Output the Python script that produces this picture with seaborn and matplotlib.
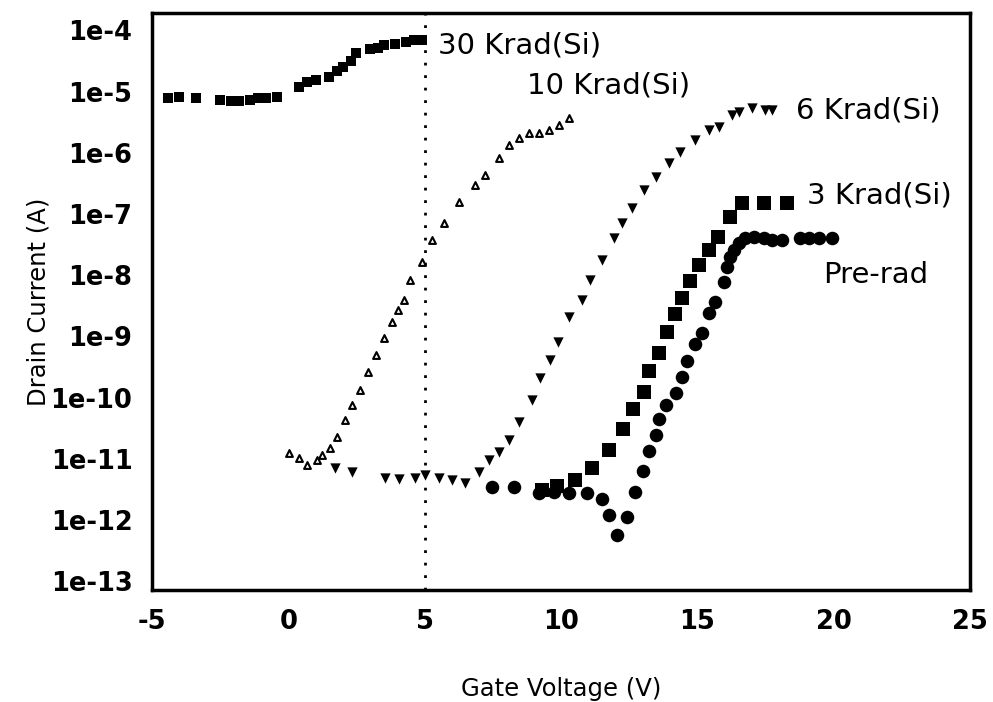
import matplotlib
matplotlib.use('Agg')
import matplotlib.pyplot as plt
import seaborn as sns
import pandas as pd

# gate voltage (V) and drain current (A) for each dose
v_30k = [-4.4, -4.0, -3.4, -2.5, -2.1, -1.8, -1.4, -1.1, -0.8, -0.4, 0.4, 0.7, 1.0, 1.5, 1.8,
         2.0, 2.3, 2.5, 3.0, 3.3, 3.5, 3.9, 4.3, 4.6, 4.9]
i_30k = [7.8e-6, 8.1e-6, 7.8e-6, 7.2e-6, 7.0e-6, 7.0e-6, 7.2e-6, 7.8e-6, 7.8e-6, 8.1e-6, 1.17e-5,
         1.42e-5, 1.53e-5, 1.71e-5, 2.2e-5, 2.5e-5, 3.2e-5, 4.2e-5, 4.9e-5, 5.1e-5, 5.7e-5, 6.1e-5,
         6.4e-5, 6.9e-5, 6.9e-5]

v_10k = [0.03, 0.39, 0.69, 1.05, 1.24, 1.53, 1.79, 2.08, 2.34, 2.63, 2.92, 3.22, 3.51, 3.80, 4.02,
         4.24, 4.46, 4.90, 5.27, 5.71, 6.26, 6.85, 7.21, 7.73, 8.09, 8.46, 8.83, 9.19, 9.56, 9.93, 10.29]
i_10k = [1.26e-11, 1.04e-11, 8.0e-12, 9.7e-12, 1.17e-11, 1.52e-11, 2.3e-11, 4.35e-11, 7.6e-11,
         1.34e-10, 2.64e-10, 5.0e-10, 9.5e-10, 1.73e-9, 2.7e-9, 3.9e-9, 8.4e-9, 1.64e-8, 3.75e-8,
         7.1e-8, 1.56e-7, 2.96e-7, 4.3e-7, 8.2e-7, 1.33e-6, 1.73e-6, 2.09e-6, 2.09e-6, 2.34e-6,
         2.82e-6, 3.66e-6]

v_6k = [1.71, 2.34, 3.55, 4.06, 4.65, 5.01, 5.53, 6.00, 6.48, 6.99, 7.36, 7.73, 8.09, 8.46, 8.94,
        9.23, 9.60, 9.89, 10.29, 10.77, 11.06, 11.50, 11.94, 12.23, 12.60, 13.04, 13.48, 13.96,
        14.36, 14.91, 15.43, 15.79, 16.27, 16.53, 17.00, 17.48, 17.73]
i_6k = [7.2e-12, 6.2e-12, 4.9e-12, 4.7e-12, 4.9e-12, 5.5e-12, 4.9e-12, 4.6e-12, 4.1e-12, 6.2e-12,
        9.7e-12, 1.31e-11, 2.05e-11, 4.0e-11, 9.2e-11, 2.1e-10, 4.1e-10, 8.1e-10, 2.08e-9, 3.9e-9,
        8.4e-9, 1.77e-8, 4.05e-8, 7.1e-8, 1.25e-7, 2.45e-7, 4.0e-7, 6.8e-7, 1.02e-6, 1.61e-6,
        2.34e-6, 2.62e-6, 4.1e-6, 4.6e-6, 5.3e-6, 5.1e-6, 5.1e-6]

v_3k = [9.30, 9.85, 10.51, 11.14, 11.76, 12.27, 12.64, 13.04, 13.22, 13.59, 13.88, 14.18, 14.44,
        14.73, 15.06, 15.43, 15.76, 16.20, 16.64, 17.45, 18.29]
i_3k = [3.1e-12, 3.6e-12, 4.6e-12, 7.2e-12, 1.41e-11, 3.1e-11, 6.6e-11, 1.24e-10, 2.74e-10,
        5.4e-10, 1.18e-9, 2.33e-9, 4.2e-9, 8.0e-9, 1.47e-8, 2.58e-8, 4.2e-8, 8.9e-8, 1.51e-7,
        1.51e-7, 1.51e-7]

v_pre = [7.47, 8.28, 9.19, 9.74, 10.29, 10.95, 11.50, 11.76, 12.05, 12.42, 12.71, 13.01, 13.22,
         13.48, 13.59, 13.85, 14.22, 14.44, 14.62, 14.91, 15.17, 15.43, 15.65, 15.98, 16.09, 16.20,
         16.34, 16.53, 16.75, 17.08, 17.44, 17.74, 18.10, 18.76, 19.09, 19.46, 19.94]
i_pre = [3.5e-12, 3.5e-12, 2.8e-12, 2.9e-12, 2.8e-12, 2.8e-12, 2.23e-12, 1.23e-12, 5.8e-13,
         1.14e-12, 2.9e-12, 6.4e-12, 1.36e-11, 2.47e-11, 4.5e-11, 7.6e-11, 1.2e-10, 2.18e-10,
         4.0e-10, 7.5e-10, 1.14e-9, 2.42e-9, 3.66e-9, 7.7e-9, 1.36e-8, 1.98e-8, 2.58e-8, 3.35e-8,
         4.05e-8, 4.2e-8, 4.05e-8, 3.75e-8, 3.75e-8, 4.05e-8, 4.05e-8, 4.05e-8, 4.05e-8]

y_ticks = [1e-4, 1e-5, 1e-6, 1e-7, 1e-8, 1e-9, 1e-10, 1e-11, 1e-12, 1e-13]
y_tick_labels = ['1e-4', '1e-5', '1e-6', '1e-7', '1e-8', '1e-9', '1e-10', '1e-11', '1e-12', '1e-13']
x_ticks = [-5, 0, 5, 10, 15, 20, 25]

sns.set_style('white')
plt.rcParams['font.family'] = ['DejaVu Sans']
plt.rcParams['text.color'] = 'black'
plt.rcParams['axes.labelcolor'] = 'black'
plt.rcParams['xtick.color'] = 'black'
plt.rcParams['ytick.color'] = 'black'

fig, ax = plt.subplots(figsize=(9.93, 7.02), dpi=100)
fig.subplots_adjust(left=0.153, right=0.977, top=0.981, bottom=0.160)

# вертикальная пунктирная линия на 5 В
ax.axvline(5, color='black', linestyle=(0, (1, 3.5)), linewidth=2, zorder=1)

sns.scatterplot(x=v_30k, y=i_30k, marker='s', s=45, color='black', linewidth=0, ax=ax)
sns.scatterplot(x=v_10k, y=i_10k, marker='^', s=24, facecolor='white', edgecolor='black',
                linewidth=1.5, ax=ax)
sns.scatterplot(x=v_6k, y=i_6k, marker='v', s=55, color='black', linewidth=0, ax=ax)
sns.scatterplot(x=v_3k, y=i_3k, marker='s', s=95, color='black', linewidth=0, ax=ax)
sns.scatterplot(x=v_pre, y=i_pre, marker='o', s=95, color='black', linewidth=0, ax=ax)

ax.set_yscale('log')
ax.set_xlim(-5, 25)
ax.set_ylim(7.3e-14, 1.9e-4)
ax.set_yticks(y_ticks)
ax.set_yticklabels(y_tick_labels)
ax.minorticks_off()
ax.set_xticks(x_ticks)
ax.set_xticklabels([str(t) for t in x_ticks])
ax.tick_params(length=0, labelsize=18.5, pad=14)
for lab in ax.get_xticklabels() + ax.get_yticklabels():
    lab.set_fontweight('bold')

for sp in ax.spines.values():
    sp.set_color('black')
    sp.set_linewidth(2.5)

# подписи кривых
ax.text(5.5, 5.7e-5, '30 Krad(Si)', fontsize=21, va='center', ha='left')
ax.text(8.75, 1.27e-5, '10 Krad(Si)', fontsize=21, va='center', ha='left')
ax.text(18.6, 4.9e-6, '6 Krad(Si)', fontsize=21, va='center', ha='left')
ax.text(19.0, 2.0e-7, '3 Krad(Si)', fontsize=21, va='center', ha='left')
ax.text(19.6, 1.0e-8, 'Pre-rad', fontsize=21, va='center', ha='left')

ax.set_xlabel('Gate Voltage (V)', fontsize=17.5, labelpad=30)
ax.set_ylabel('Drain Current (A)', fontsize=17.5, labelpad=0)

plt.savefig('out.png', dpi=100)
